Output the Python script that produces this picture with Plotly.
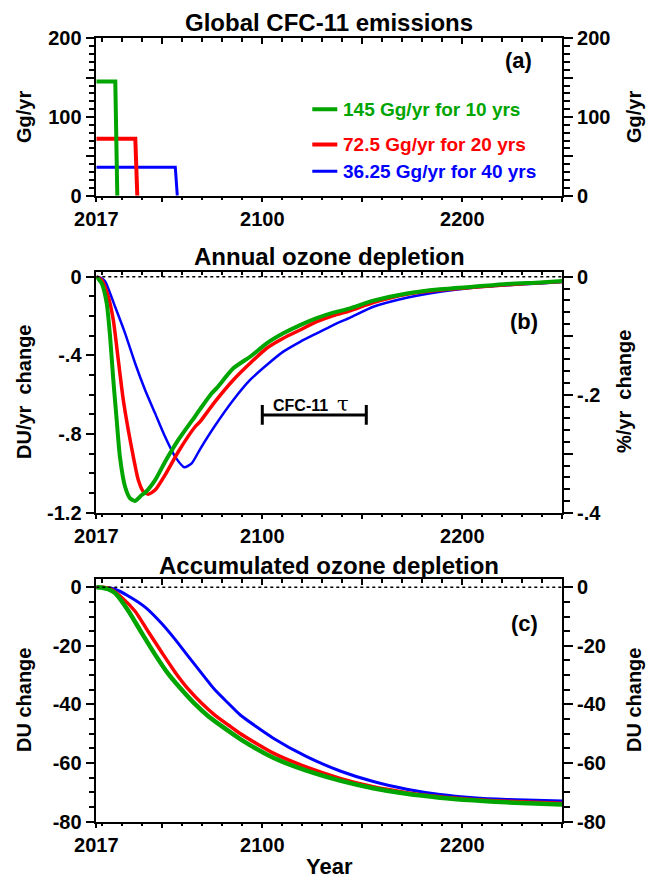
import plotly.graph_objects as go

W, H = 647, 881
FONT = "Liberation Sans, Arial, Helvetica, sans-serif"
GREEN, RED, BLUE = "#00a500", "#ff0000", "#0000ff"

# ---------------- data ----------------
series_labels = ["145 Gg/yr for 10 yrs", "72.5 Gg/yr for 20 yrs", "36.25 Gg/yr for 40 yrs"]

# (a) emissions, Gg/yr
emis_green_year = [2017, 2026.5, 2027.5]
emis_green = [145, 145, 0]
emis_red_year = [2017, 2036.5, 2037.5]
emis_red = [72.5, 72.5, 0]
emis_blue_year = [2017, 2056.5, 2057.5]
emis_blue = [36.25, 36.25, 0]

# (b) annual ozone depletion, DU/yr
ann_green_year = [2017, 2019.7, 2022.2, 2023.9, 2025.5, 2027.2, 2028.8, 2031.4, 2033.9, 2036.4,
                  2039.7, 2041.4, 2046.4, 2051.4, 2058.0, 2066.4, 2069, 2074.7, 2077.2, 2085.5,
                  2093.9, 2102.2, 2110.5, 2118.9, 2127.2, 2135.5, 2143.9, 2155.5, 2172.2, 2188.9,
                  2205.5, 2222.2, 2238.9, 2250]
ann_green = [0, -0.034, -0.135, -0.305, -0.525, -0.729, -0.915, -1.068, -1.127, -1.140,
             -1.110, -1.098, -1.034, -0.941, -0.830, -0.710, -0.672, -0.593, -0.567, -0.466,
             -0.407, -0.339, -0.288, -0.246, -0.211, -0.183, -0.161, -0.122, -0.085, -0.064,
             -0.051, -0.037, -0.029, -0.022]
ann_red_year = [2017, 2019.7, 2023.0, 2025.5, 2028.0, 2030.5, 2033.0, 2035.5, 2038.0, 2040.5,
                2043.0, 2046.4, 2051.4, 2058.0, 2066.4, 2068.9, 2076, 2085.5, 2093.9, 2102.2,
                2110.5, 2118.9, 2127.2, 2135.5, 2143.9, 2155.5, 2172.2, 2188.9, 2205.5, 2222.2,
                2238.9, 2250]
ann_red = [0, -0.017, -0.102, -0.220, -0.424, -0.627, -0.780, -0.915, -1.034, -1.093,
           -1.106, -1.085, -1.008, -0.890, -0.763, -0.737, -0.640, -0.525, -0.440, -0.364,
           -0.313, -0.271, -0.229, -0.198, -0.173, -0.132, -0.090, -0.068, -0.054, -0.041,
           -0.031, -0.024]
ann_blue_year = [2017, 2019, 2021.3, 2026.4, 2031.4, 2036.4, 2041.4, 2046.4, 2051.4, 2056.4,
                 2061.0, 2064.7, 2069, 2076, 2085.5, 2093.9, 2102.2, 2110.5, 2118.9, 2127.2,
                 2135.5, 2143.9, 2155.5, 2172.2, 2188.9, 2205.5, 2222.2, 2238.9, 2250]
ann_blue = [0, -0.005, -0.022, -0.153, -0.288, -0.440, -0.576, -0.695, -0.814, -0.915,
            -0.969, -0.949, -0.875, -0.763, -0.627, -0.525, -0.449, -0.381, -0.331, -0.288,
            -0.246, -0.208, -0.153, -0.107, -0.076, -0.056, -0.044, -0.034, -0.027]

# (c) accumulated ozone depletion, DU
acc_green_year = [2017, 2020, 2023, 2026.4, 2033, 2039.7, 2046.4, 2053, 2059.7, 2066.4, 2073,
                  2079.7, 2089, 2105.5, 2122.2, 2138.9, 2155.5, 2172.2, 2188.9, 2205.5,
                  2222.2, 2250]
acc_green = [0, -0.2, -0.7, -2.0, -8.0, -15.6, -23.0, -29.6, -35.0, -39.9, -44.0,
             -47.4, -51.8, -58.2, -62.6, -66.0, -68.6, -70.5, -71.8, -72.7,
             -73.4, -74.1]
acc_red_year = [2017, 2020, 2024, 2029.7, 2036.4, 2043, 2049.7, 2056.4, 2063, 2069.7, 2076.4,
                2083, 2088.9, 2105.5, 2122.2, 2138.9, 2155.5, 2172.2, 2188.9, 2205.5, 2222.2, 2250]
acc_red = [0, -0.05, -0.6, -3.5, -8.2, -15.2, -22.2, -29.0, -34.8, -39.6, -43.7,
           -47.0, -49.9, -56.6, -61.4, -65.2, -68.1, -70.1, -71.5, -72.4, -73.0, -73.7]
acc_blue_year = [2017, 2021, 2026.4, 2033, 2041.4, 2049.7, 2056.4, 2063, 2069.7, 2076.4, 2083,
                 2089, 2105.5, 2122.2, 2138.9, 2155.5, 2172.2, 2188.9, 2205.5, 2222.2, 2250]
acc_blue = [0, -0.1, -0.7, -3.0, -6.8, -12.4, -17.8, -23.6, -29.4, -35.1, -39.6,
            -43.6, -51.5, -57.8, -62.7, -66.3, -68.9, -70.7, -71.8, -72.4, -72.9]

# CFC-11 lifetime bar (years) and its level in panel (b)
tau_start, tau_years, tau_level = 2100, 52, -0.703

x_ticks = [2017, 2050, 2100, 2150, 2200, 2250]
x_ticktext = ["2017", "", "2100", "", "2200", ""]

# ---------------- layout helpers ----------------
def fx(p):
    return p / W

def fy(p):
    return 1 - p / H

XD = [fx(96.3), fx(562.3)]
dom_a = [fy(195.7), fy(38.3)]
dom_b = [fy(512.7), fy(271.7)]
dom_c = [fy(821.7), fy(579.0)]

tickfont = dict(family=FONT, size=20, color="black", weight="bold")
LW = 1.5


def minor_vals(lo, hi, step, major_step):
    out = []
    n = int(round((hi - lo) / step))
    for i in range(n + 1):
        v = round(lo + i * step, 6)
        if abs(round(v / major_step) * major_step - v) > 1e-9:
            out.append(v)
    return out


x_minor = [v for v in range(2020, 2250, 10) if v % 50 != 0]


def xaxis_bottom(anchor):
    return dict(domain=XD, anchor=anchor, range=[2017, 2250], tickmode="array",
                tickvals=x_ticks, ticktext=x_ticktext, ticks="outside", ticklen=5,
                tickwidth=LW, tickcolor="black", showline=True, linecolor="black",
                linewidth=LW, showgrid=False, zeroline=False, tickfont=tickfont,
                automargin=False,
                minor=dict(tickmode="array", tickvals=x_minor, ticks="outside",
                           ticklen=3, tickwidth=LW, tickcolor="black"))


def xaxis_top(over, anchor):
    return dict(domain=XD, anchor=anchor, overlaying=over, side="top", range=[2017, 2250],
                tickmode="array", tickvals=x_ticks, ticks="inside", ticklen=6, tickwidth=LW,
                tickcolor="black", showline=True, linecolor="black", linewidth=LW,
                showgrid=False, zeroline=False, showticklabels=False, automargin=False,
                minor=dict(tickmode="array", tickvals=x_minor, ticks="inside",
                           ticklen=4, tickwidth=LW, tickcolor="black"))


def yaxis(dom, anchor, rng, tv, tt, mv, side="left", over=None):
    d = dict(domain=dom, anchor=anchor, range=rng, side=side, tickmode="array",
             tickvals=tv, ticktext=tt, ticks="outside", ticklen=9, tickwidth=LW,
             tickcolor="black", showline=True, linecolor="black", linewidth=LW,
             showgrid=False, zeroline=False, tickfont=tickfont, automargin=False,
             minor=dict(tickmode="array", tickvals=mv, ticks="outside", ticklen=6,
                        tickwidth=LW, tickcolor="black"))
    if over:
        d["overlaying"] = over
    return d


fig = go.Figure()


def add_line(x, y, color, width, xa, ya, smooth=True):
    fig.add_trace(go.Scatter(x=x, y=y, mode="lines", xaxis=xa, yaxis=ya,
                             line=dict(color=color, width=width,
                                       shape="spline" if smooth else "linear",
                                       smoothing=0.6 if smooth else None),
                             showlegend=False, hoverinfo="skip"))


# panel (a)
add_line(emis_blue_year, emis_blue, BLUE, 3, "x", "y", smooth=False)
add_line(emis_red_year, emis_red, RED, 4, "x", "y", smooth=False)
add_line(emis_green_year, emis_green, GREEN, 4, "x", "y", smooth=False)
# panel (b)
add_line(ann_blue_year, ann_blue, BLUE, 2.5, "x2", "y2")
add_line(ann_red_year, ann_red, RED, 3.5, "x2", "y2")
add_line(ann_green_year, ann_green, GREEN, 4, "x2", "y2")
# panel (c)
add_line(acc_blue_year, acc_blue, BLUE, 3, "x3", "y3")
add_line(acc_red_year, acc_red, RED, 3.5, "x3", "y3")
add_line(acc_green_year, acc_green, GREEN, 4.5, "x3", "y3")

# dummy traces so the overlay axes (top x / right y) are drawn
for i in (1, 2, 3):
    xb = "x" if i == 1 else f"x{i}"
    yb = "y" if i == 1 else f"y{i}"
    fig.add_trace(go.Scatter(x=[None], y=[None], xaxis=xb, yaxis=f"y{i+3}",
                             showlegend=False, hoverinfo="skip"))
    fig.add_trace(go.Scatter(x=[None], y=[None], xaxis=f"x{i+3}", yaxis=yb,
                             showlegend=False, hoverinfo="skip"))

# axes
a_tv, a_tt = [0, 50, 100, 150, 200], ["0", "", "100", "", "200"]
a_mv = minor_vals(0, 200, 10, 50)
b_tv, b_tt = [0, -0.4, -0.8, -1.2], ["0", "-.4", "-.8", "-1.2"]
b_mv = minor_vals(-1.2, 0, 0.1, 0.4)
br_tv, br_tt = [0, -0.1, -0.2, -0.3, -0.4], ["0", "", "-.2", "", "-.4"]
br_mv = minor_vals(-0.4, 0, 0.02, 0.1)
c_tv, c_tt = [0, -20, -40, -60, -80], ["0", "-20", "-40", "-60", "-80"]
c_mv = minor_vals(-80, 0, 5, 20)

b_rng = [-1.2, 0.0254]
c_rng = [-80, 2.8]

fig.update_layout(
    xaxis=xaxis_bottom("y"), xaxis2=xaxis_bottom("y2"), xaxis3=xaxis_bottom("y3"),
    xaxis4=xaxis_top("x", "y"), xaxis5=xaxis_top("x2", "y2"), xaxis6=xaxis_top("x3", "y3"),
    yaxis=yaxis(dom_a, "x", [0, 200], a_tv, a_tt, a_mv),
    yaxis4=yaxis(dom_a, "x", [0, 200], a_tv, a_tt, a_mv, side="right", over="y"),
    yaxis2=yaxis(dom_b, "x2", b_rng, b_tv, b_tt, b_mv),
    yaxis5=yaxis(dom_b, "x2", [b_rng[0] / 3, b_rng[1] / 3], br_tv, br_tt, br_mv,
                 side="right", over="y2"),
    yaxis3=yaxis(dom_c, "x3", c_rng, c_tv, c_tt, c_mv),
    yaxis6=yaxis(dom_c, "x3", c_rng, c_tv, c_tt, c_mv, side="right", over="y3"),
)

shapes = []
# dotted zero lines
for xr, yr in (("x2", "y2"), ("x3", "y3")):
    shapes.append(dict(type="line", xref=xr, yref=yr, x0=2017, x1=2250, y0=0, y1=0,
                       line=dict(color="black", width=1.5, dash="dot")))
# CFC-11 lifetime bar
tau_end = tau_start + tau_years
shapes.append(dict(type="line", xref="x2", yref="y2", x0=tau_start, x1=tau_end,
                   y0=tau_level, y1=tau_level, line=dict(color="black", width=3)))
for xe in (tau_start, tau_end):
    shapes.append(dict(type="line", xref="x2", yref="y2", x0=xe, x1=xe,
                       y0=tau_level - 0.05, y1=tau_level + 0.05,
                       line=dict(color="black", width=3)))

annotations = []


def ann(text, x, y, size, xref="paper", yref="paper", xanchor="center", yanchor="middle",
        angle=0, color="black", weight="bold"):
    annotations.append(dict(text=text, x=x, y=y, xref=xref, yref=yref, xanchor=xanchor,
                            yanchor=yanchor, textangle=angle, showarrow=False,
                            font=dict(family=FONT, size=size, color=color, weight=weight)))


# legend in panel (a)
leg_y = [110, 65, 31]
for lab, col, yy, w in zip(series_labels, [GREEN, RED, BLUE], leg_y, [4, 4, 3]):
    shapes.append(dict(type="line", xref="x", yref="y", x0=2125, x1=2137.5, y0=yy, y1=yy,
                       line=dict(color=col, width=w)))
    ann(lab, 2139.5, yy, 19, xref="x", yref="y", xanchor="left", color=col)

# panel titles
cx = (96.3 + 562.3) / 2 / W
ann("Global CFC-11 emissions", cx, fy(23), 24)
ann("Annual ozone depletion", cx, fy(256.5), 24)
ann("Accumulated ozone depletion", cx, fy(565), 24)

# panel letters
ann("(a)", 2228, 172, 22, xref="x", yref="y")
ann("(b)", 2231, -0.229, 22, xref="x2", yref="y2")
ann("(c)", 2231, -12.5, 22, xref="x3", yref="y3")

# CFC-11 tau label
ann("CFC-11  <span style='font-family:DejaVu Serif;font-weight:normal;font-size:21px'>τ</span>",
    2124.5, -0.645, 16, xref="x2", yref="y2")

# axis titles
ann("Gg/yr", fx(24), fy(117), 20, angle=-90)
ann("Gg/yr", fx(634), fy(117), 20, angle=-90)
ann("DU/yr  change", fx(24), fy(392), 20, angle=-90)
ann("%/yr  change", fx(624), fy(392), 20, angle=-90)
ann("DU change", fx(24), fy(700), 20, angle=-90)
ann("DU change", fx(634), fy(700), 20, angle=-90)
ann("Year", cx, fy(866), 22)

fig.update_layout(
    width=W, height=H, margin=dict(l=0, r=0, t=0, b=0, autoexpand=False),
    paper_bgcolor="white", plot_bgcolor="white",
    shapes=shapes, annotations=annotations, showlegend=False,
    font=dict(family=FONT, color="black"),
)

fig.write_html("out.html")
